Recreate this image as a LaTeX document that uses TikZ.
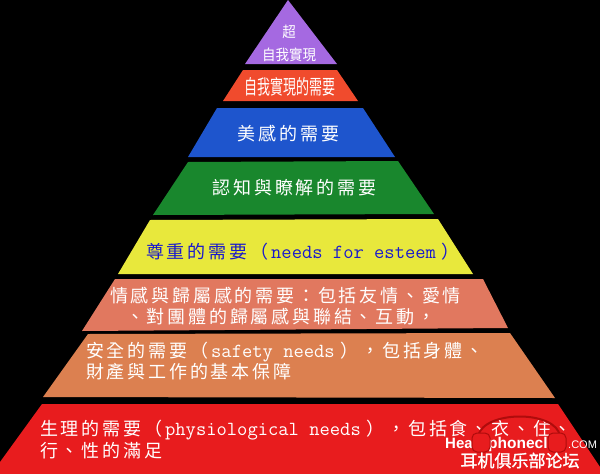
\documentclass[tikz,border=0pt]{standalone}
\usepackage{fontspec}
\usepackage{graphicx}
\newfontfamily\cjkA[LetterSpace=15.5]{Noto Sans CJK TC}
\newfontfamily\cjkB{Noto Sans CJK TC}
\newfontfamily\wmsans{Liberation Sans}
\newfontfamily\wmcjk[FakeBold=1.5]{Noto Sans CJK SC}
\newcommand\mylat[1]{\hspace{3pt}{\fontsize{20}{20}\ttfamily #1}\hspace{6pt}}
\definecolor{cpurple}{RGB}{165,105,225}
\definecolor{credor}{RGB}{240,75,45}
\definecolor{cblue}{RGB}{30,85,205}
\definecolor{cgreen}{RGB}{25,135,45}
\definecolor{cyellow}{RGB}{232,232,60}
\definecolor{csalmon}{RGB}{225,120,95}
\definecolor{corange}{RGB}{220,128,80}
\definecolor{cred}{RGB}{232,28,30}
\definecolor{ctxtblue}{RGB}{25,25,205}
\definecolor{cdarkred}{RGB}{175,12,12}
\tikzset{
  txt/.style={text=white, inner sep=0pt, font=\cjkA\fontsize{18}{18}\selectfont},
  toptxt/.style={text=white, inner sep=0pt, font=\cjkB\fontsize{13.5}{13.5}\selectfont},
  wm/.style={text=white, inner sep=0pt}
}
\begin{document}
\begin{tikzpicture}[x=1pt,y=-1pt]
\fill[black] (0,0) rectangle (600,474);
\useasboundingbox (0,0) rectangle (600,474);
% layers
\fill[cpurple] (288,0) -- (337,64) -- (245,64) -- cycle;
\fill[credor] (243,70) -- (337,70) -- (358,101) -- (223,101) -- cycle;
\fill[cblue] (217,108) -- (363,108) -- (395,157) -- (188,157) -- cycle;
\fill[cgreen] (188,162) -- (398,161) -- (434,214) -- (153,215) -- cycle;
\fill[cyellow] (150,220) -- (438,219) -- (473,274) -- (118,274) -- cycle;
\fill[csalmon] (115,279) -- (483,279) -- (508,328) -- (82,331) -- cycle;
\fill[corange] (88,334) -- (510,333) -- (555,398) -- (43,397) -- cycle;
\fill[cred] (42,404) -- (558,404) -- (600,467) -- (600,474) -- (0,474) -- (0,462) -- cycle;
% texts
\node[toptxt, anchor=base] (t1) at (289,37.5) {\scalebox{1}[1.1]{超}};
\node[toptxt, anchor=base] (t2) at (289,60.5) {\scalebox{1}[1.1]{自我實現}};
\node[toptxt, font=\cjkB\fontsize{13}{13}\selectfont, anchor=base] (t3) at (290,94) {\scalebox{1}[1.55]{自我實現的需要}};
\node[txt, anchor=base] (t4) at (288.5,140) {美感的需要};
\node[txt, anchor=base] (t5) at (294.5,194) {認知與瞭解的需要};
\node[txt, anchor=base west, text=ctxtblue] (t6) at (146,258) {尊重的需要（\mylat{needs for esteem}）};
\node[txt, anchor=base west] (t7) at (110,302) {情感與歸屬感的需要：包括友情、愛情};
\node[txt, anchor=base west] (t8) at (126,323) {、對團體的歸屬感與聯結、互動，};
\node[txt, anchor=base west] (t9) at (86,357) {安全的需要（\mylat{safety needs}），包括身體、};
\node[txt, anchor=base west] (t10) at (86,378) {財產與工作的基本保障};
\node[txt, anchor=base west] (t11) at (40,435) {生理的需要（\mylat{physiological needs}），包括食、衣、住、};
\node[txt, anchor=base west] (t12) at (40,457) {行、性的滿足};
% watermark
\draw[cdarkred, line width=2pt] (478,436) .. controls (484,410) and (556,410) .. (560,436);
\node[wm, anchor=base west, font=\wmsans\bfseries\fontsize{15}{15}\selectfont] (w1) at (445,448) {Hea};
\node[wm, anchor=base west, font=\wmsans\bfseries\fontsize{15.5}{15}\selectfont] (w2) at (488,448) {phoneclu};
\node[wm, anchor=base west, font=\wmsans\fontsize{11}{11}\selectfont] (w3) at (568,448) {.COM};
\fill[cred, draw=cdarkred, line width=1pt, rounded corners=5pt] (472,433) rectangle (490,452);
\fill[cred, draw=cdarkred, line width=1pt, rounded corners=5pt] (548,433) rectangle (566,452);
\node[wm, anchor=base, font=\wmcjk\fontsize{17}{17}\selectfont] (w4) at (520,467) {耳机俱乐部论坛};
\end{tikzpicture}
\end{document}
